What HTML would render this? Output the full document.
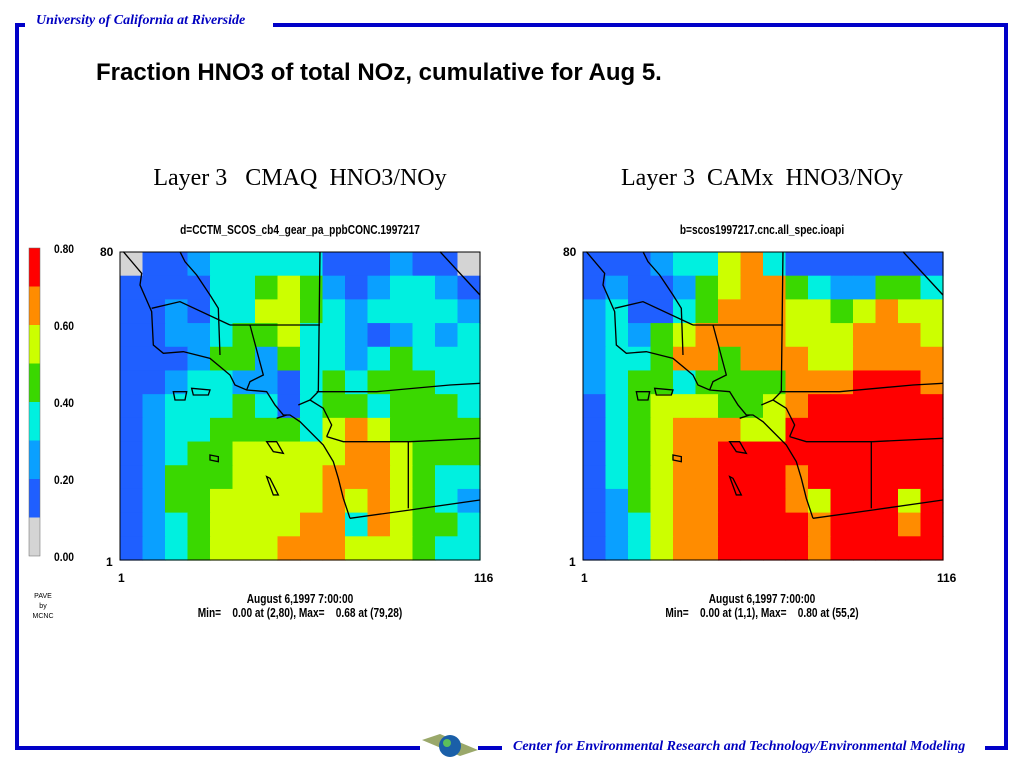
<!DOCTYPE html>
<html><head><meta charset="utf-8"><style>
html,body{margin:0;padding:0;background:#fff;}
body{width:1024px;height:768px;position:relative;overflow:hidden;font-family:"Liberation Sans",sans-serif;}
.ab{position:absolute;}
.bl{position:absolute;background:#0000c8;}
.cond{font-weight:bold;font-size:13px;white-space:nowrap;transform:scaleX(0.78);transform-origin:center;}
</style></head><body>
<div class="bl" style="left:15px;top:23px;width:4px;height:727px"></div>
<div class="bl" style="left:15px;top:23px;width:10px;height:4px"></div>
<div class="bl" style="left:273px;top:23px;width:735px;height:4px"></div>
<div class="bl" style="left:1004px;top:23px;width:4px;height:727px"></div>
<div class="bl" style="left:15px;top:746px;width:405px;height:4px"></div>
<div class="bl" style="left:478px;top:746px;width:24px;height:4px"></div>
<div class="bl" style="left:985px;top:746px;width:23px;height:4px"></div>
<div class="ab" style="left:36px;top:13px;font:italic bold 14px 'Liberation Serif',serif;color:#0000c0">University of California at Riverside</div>
<div class="ab" style="left:96px;top:59px;font:bold 24px 'Liberation Sans',sans-serif;color:#000">Fraction HNO3 of total NOz, cumulative for Aug 5.</div>
<div class="ab" style="left:513px;top:739px;font:italic bold 14px 'Liberation Serif',serif;color:#0000c0">Center for Environmental Research and Technology/Environmental Modeling</div>
<svg class="ab" style="left:420px;top:730px" width="60" height="30">
<path d="M2 10 L20 4 L58 20 L40 26 Z" fill="#9aa86a"/><circle cx="30" cy="16" r="11" fill="#1a5fa8"/><circle cx="27" cy="13" r="4" fill="#5bbf5b"/></svg>
<div class="ab" style="left:100px;top:165px;width:400px;text-align:center;font:24px 'Liberation Serif',serif;white-space:pre">Layer 3   CMAQ  HNO3/NOy</div>
<div class="ab" style="left:562px;top:165px;width:400px;text-align:center;font:24px 'Liberation Serif',serif;white-space:pre">Layer 3  CAMx  HNO3/NOy</div>
<div class="ab cond" style="left:100px;top:222px;width:400px;text-align:center">d=CCTM_SCOS_cb4_gear_pa_ppbCONC.1997217</div>
<div class="ab cond" style="left:562px;top:222px;width:400px;text-align:center">b=scos1997217.cnc.all_spec.ioapi</div>
<svg id="chart" class="ab" style="left:0;top:0" width="1024" height="768"></svg>
<div class="ab cond" style="left:150px;top:591px;width:300px;text-align:center">August 6,1997 7:00:00</div>
<div class="ab cond" style="left:150px;top:605px;width:300px;text-align:center;white-space:pre">Min=    0.00 at (2,80), Max=    0.68 at (79,28)</div>
<div class="ab cond" style="left:612px;top:591px;width:300px;text-align:center">August 6,1997 7:00:00</div>
<div class="ab cond" style="left:612px;top:605px;width:300px;text-align:center;white-space:pre">Min=    0.00 at (1,1), Max=    0.80 at (55,2)</div>
<div class="ab" style="left:28px;top:592px;width:30px;text-align:center;font:7px 'Liberation Sans',sans-serif;line-height:10px">PAVE<br>by<br>MCNC</div>
<script>
// values in tenths of fraction (k => 0.k to 0.(k+1))
const colorBins=['#d4d4d4','#1f5fff','#0aa0ff','#00f0e0','#3ad800','#ccff00','#ff8c00','#ff0000'];
const cbTicks=['0.80','0.60','0.40','0.20','0.00'];
const cbTickVals=[0.8,0.6,0.4,0.2,0.0];
const cmaqTenths=[
[0,1,1,2,3,3,3,3,3,1,1,1,2,1,1,0],
[1,1,1,1,3,3,4,5,4,2,1,2,3,3,2,1],
[1,1,2,1,3,3,5,5,4,3,2,3,3,3,3,2],
[1,1,2,2,3,4,4,5,3,3,2,1,2,3,2,3],
[1,1,1,2,4,4,2,4,3,3,2,3,4,3,3,3],
[1,1,2,3,3,2,2,1,3,4,3,4,4,4,3,3],
[1,2,3,3,3,4,3,1,3,4,4,3,4,4,4,3],
[1,2,3,3,4,4,4,4,3,5,6,5,4,4,4,4],
[1,2,3,4,4,5,5,5,5,5,6,6,5,4,4,4],
[1,2,4,4,4,5,5,5,5,6,6,6,5,4,3,3],
[1,2,4,4,5,5,5,5,5,6,5,6,5,4,3,2],
[1,2,3,4,5,5,5,5,6,6,3,6,5,4,4,3],
[1,2,3,4,5,5,5,6,6,6,5,5,5,4,3,3]];
const camxTenths=[
[1,1,1,2,3,3,5,6,3,1,1,1,1,1,1,1],
[1,2,1,1,2,4,5,6,6,4,3,2,2,4,4,3],
[2,3,1,1,3,4,6,6,6,5,5,4,5,6,5,5],
[2,3,2,4,5,6,6,6,6,5,5,5,6,6,6,5],
[2,3,3,4,6,6,4,6,6,6,5,5,6,6,6,6],
[2,3,4,4,3,4,4,4,4,6,6,6,7,7,7,6],
[1,3,4,5,5,5,4,4,5,6,7,7,7,7,7,7],
[1,3,4,5,6,6,6,5,5,7,7,7,7,7,7,7],
[1,3,4,5,6,6,7,7,7,7,7,7,7,7,7,7],
[1,3,4,5,6,6,7,7,7,6,7,7,7,7,7,7],
[1,2,4,5,6,6,7,7,7,6,5,7,7,7,5,7],
[1,2,3,5,6,6,7,7,7,7,6,7,7,7,6,7],
[1,2,3,5,6,6,7,7,7,7,6,7,7,7,7,7]];
const xTicks=['1','116'];
const yTicks=['80','1'];
const NS='http://www.w3.org/2000/svg';
const svg=document.getElementById('chart');
function mk(t,a,p){const e=document.createElementNS(NS,t);for(const k in a)e.setAttribute(k,a[k]);(p||svg).appendChild(e);return e;}
const cbTop=248,cbBot=556;
const cbY=v=>cbBot-(v/0.8)*(cbBot-cbTop);
colorBins.forEach((c,i)=>{
 const r=mk('rect',{x:29,y:cbY((i+1)*0.1),width:11,height:cbY(i*0.1)-cbY((i+1)*0.1),fill:c});
 
 
});
mk('rect',{x:29,y:cbTop,width:11,height:cbBot-cbTop,fill:'none',stroke:'#666','stroke-width':0.5});
cbTicks.forEach((t,i)=>{
 const e=mk('text',{x:54,y:cbY(cbTickVals[i])+5,'font-family':'Liberation Sans','font-weight':'bold','font-size':12,textLength:20,lengthAdjust:'spacingAndGlyphs'});
 e.textContent=t;
 
 
});
const outline=[
"M40 20 L95 85 L90 120 L125 200 L130 300 L160 325 L220 320 L300 340 L330 365 L360 390 L375 420 L410 435 L470 440 L495 480 L520 510 L540 510 L570 530 L640 600 L670 650 L685 700 L700 760 L720 820",
"M620 440 L800 440 L1020 420 L1110 415","M650 575 L700 590 L900 590 L1110 580","M720 820 L900 795 L1110 765",
"M895 590 L895 790","M360 240 L630 240","M630 20 L625 440 L600 465 L640 490 L665 540 L650 575",
"M210 20 L225 50 L260 90 L300 150 L325 190 L330 330","M125 190 L210 170 L360 240","M420 240 L460 390 L420 410 L410 435",
"M990 20 L1110 150","M565 480 L600 465","M500 520 L530 510",
"M190 440 L230 440 L225 465 L195 465 Z","M245 430 L300 435 L295 450 L250 450 Z","M300 630 L325 635 L325 650 L300 645 Z","M470 590 L500 590 L520 625 L490 620 Z","M470 695 L480 700 L505 750 L490 750 Z"];
function drawMap(ox,name,data){
 const x0=ox+30/3,x1=ox+1110/3,y0=252,y1=560;
 const rows=data.length,cols=data[0].length;
 const xs=c=>x0+(x1-x0)*c/cols, ys=r=>y0+(y1-y0)*r/rows;
 const g=mk('g',{});
 
 
 mk('rect',{x:x0,y:y0,width:x1-x0,height:y1-y0,fill:colorBins[0]},g);
 data.forEach((row,r)=>row.forEach((v,c)=>{
  const cell=mk('rect',{x:xs(c),y:ys(r),width:xs(c+1)-xs(c)+0.6,height:ys(r+1)-ys(r)+0.6,fill:colorBins[Math.max(0,Math.min(7,v))]},g);
  
  
 }));
 const og=mk('g',{transform:`translate(${ox},245) scale(0.3333)`,fill:'none',stroke:'#000','stroke-width':4});
 
 
 outline.forEach(d=>mk('path',{d:d},og));
 const fr=mk('rect',{x:x0,y:y0,width:x1-x0,height:y1-y0,fill:'none',stroke:'#000','stroke-width':1});
 
 
 const tk=[[x0-20,y0+4,yTicks[0]],[x0-14,y1+6,yTicks[1]],[x0-2,y1+22,xTicks[0]],[x1-6,y1+22,xTicks[1]]];
 tk.forEach(t=>{
  const e=mk('text',{x:t[0],y:t[1],'font-family':'Liberation Sans','font-weight':'bold','font-size':12});
  e.textContent=t[2];
  
  
 });
}
drawMap(110,'cmaq',cmaqTenths);
drawMap(573,'camx',camxTenths);
</script>
</body></html>
